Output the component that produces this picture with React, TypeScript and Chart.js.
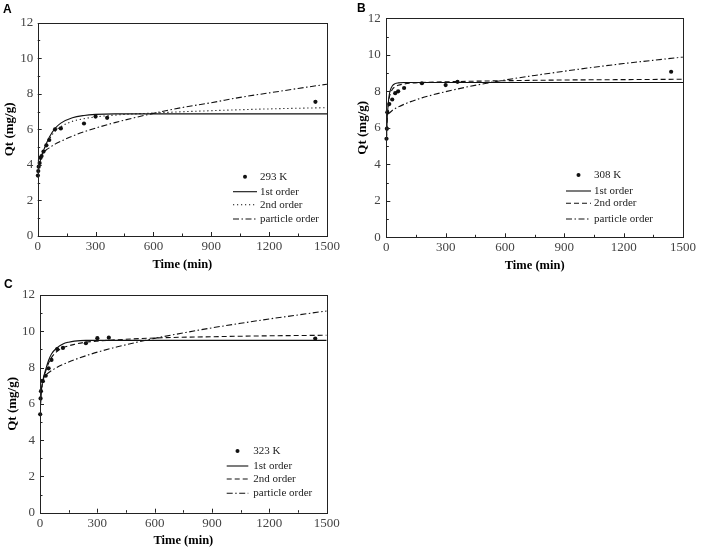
import React, { useEffect, useRef } from "react";
import { Chart, registerables } from "chart.js";
Chart.register(...registerables);

// ---------- Panel A (293 K) ----------
const timeA = [1, 3, 5, 10, 15, 20, 30, 45, 60, 90, 120, 240, 300, 360, 1440];
const qA = [3.4, 3.65, 3.9, 4.1, 4.4, 4.5, 4.75, 5.1, 5.4, 6.0, 6.05, 6.33, 6.72, 6.65, 7.55];
const fitTimeA = [1, 5, 15, 30, 45, 60, 90, 120, 180, 240, 300, 400, 600, 900, 1200, 1500];
const firstA = [3.4, 3.8, 4.3, 4.8, 5.2, 5.55, 6.05, 6.35, 6.65, 6.78, 6.84, 6.87, 6.87, 6.87, 6.87, 6.87];
const secondA = [3.4, 3.8, 4.3, 4.8, 5.15, 5.45, 5.9, 6.15, 6.45, 6.6, 6.7, 6.8, 6.92, 7.05, 7.15, 7.22];
const partTimeA = [1, 5, 15, 30, 45, 60, 90, 120, 180, 240, 300, 400, 500, 600, 750, 900, 1050, 1200, 1350, 1500];
const partA = [4.18, 4.33, 4.52, 4.7, 4.85, 4.96, 5.17, 5.33, 5.62, 5.86, 6.07, 6.38, 6.65, 6.9, 7.23, 7.5, 7.8, 8.05, 8.3, 8.54];

// ---------- Panel B (308 K) ----------
const timeB = [1, 3, 5, 15, 30, 45, 60, 90, 180, 300, 360, 1440];
const qB = [5.4, 5.95, 6.85, 7.3, 7.55, 7.9, 8.0, 8.18, 8.44, 8.34, 8.52, 9.07];
const fitTimeB = [1, 3, 5, 10, 15, 20, 30, 45, 60, 90, 120, 180, 300, 600, 900, 1200, 1500];
const firstB = [5.4, 6.0, 6.6, 7.35, 7.8, 8.05, 8.29, 8.42, 8.46, 8.48, 8.48, 8.48, 8.48, 8.48, 8.48, 8.48, 8.48];
const secondB = [5.4, 6.0, 6.55, 7.25, 7.65, 7.85, 8.1, 8.25, 8.33, 8.4, 8.44, 8.48, 8.52, 8.58, 8.62, 8.64, 8.66];
const partTimeB = [10, 15, 30, 60, 90, 120, 180, 240, 300, 400, 500, 600, 750, 900, 1050, 1200, 1350, 1500];
const partB = [6.75, 6.8, 6.95, 7.14, 7.29, 7.42, 7.64, 7.82, 7.98, 8.22, 8.43, 8.62, 8.87, 9.1, 9.32, 9.52, 9.7, 9.88];

// ---------- Panel C (323 K) ----------
const timeC = [1, 3, 5, 15, 30, 45, 60, 90, 120, 240, 300, 360, 1440];
const qC = [5.42, 6.3, 6.7, 7.25, 7.55, 7.96, 8.42, 9.02, 9.08, 9.34, 9.62, 9.65, 9.6];
const fitTimeC = [1, 5, 15, 30, 45, 60, 90, 120, 150, 180, 240, 300, 600, 900, 1200, 1500];
const firstC = [5.5, 6.5, 7.3, 7.9, 8.4, 8.75, 9.1, 9.3, 9.4, 9.46, 9.5, 9.5, 9.5, 9.5, 9.5, 9.5];
const secondC = [5.5, 6.45, 7.2, 7.8, 8.25, 8.55, 8.9, 9.1, 9.2, 9.28, 9.4, 9.46, 9.63, 9.7, 9.75, 9.78];
const partTimeC = [1, 5, 15, 30, 60, 90, 120, 180, 240, 300, 400, 500, 600, 750, 900, 1050, 1200, 1350, 1500];
const partC = [7.05, 7.25, 7.42, 7.59, 7.83, 8.02, 8.17, 8.43, 8.65, 8.85, 9.13, 9.38, 9.61, 9.91, 10.19, 10.44, 10.68, 10.9, 11.12];

const xTickMax = 1500;
const xTickStep = 300;
const yTickMax = 12;
const yTickStep = 2;
const legendLabels = ["1st order", "2nd order", "particle order"];

const SERIF = "'Liberation Serif', 'Times New Roman', serif";
const INK = "#111";

const pts = (xs: number[], ys: number[]) => xs.map((x, i) => ({ x, y: ys[i] }));

type PanelCfg = {
  left: number; top: number; width: number; height: number;
  pad: { top: number; right: number };
  yAxisW: number; xAxisH: number;
  yTitlePad: number; xTitlePad: number;
  yTickPad: number; xTickPad: number;
  temp: string;
  time: number[]; q: number[];
  fitTime: number[]; first: number[]; second: number[];
  partTime: number[]; part: number[];
  secondDash: number[];
  legend: { lx0: number; lx1: number; tx: number; rows: number[] };
};

const panels: PanelCfg[] = [
  {
    left: 0, top: 0, width: 354, height: 275,
    pad: { top: 22.7, right: 27 }, yAxisW: 37.7, xAxisH: 39,
    yTitlePad: 2, xTitlePad: 2.5, yTickPad: 4.4, xTickPad: 3,
    temp: "293 K", time: timeA, q: qA, fitTime: fitTimeA, first: firstA, second: secondA,
    partTime: partTimeA, part: partA, secondDash: [1.2, 2.8],
    legend: { lx0: -94, lx1: -70, tx: -67, rows: [-59.3, -44.3, -31.3, -17] },
  },
  {
    left: 354, top: 0, width: 354, height: 275,
    pad: { top: 18.3, right: 25 }, yAxisW: 32.3, xAxisH: 37.7,
    yTitlePad: 0.5, xTitlePad: 1.8, yTickPad: 5.6, xTickPad: 2.4,
    temp: "308 K", time: timeB, q: qB, fitTime: fitTimeB, first: firstB, second: secondB,
    partTime: partTimeB, part: partB, secondDash: [5, 3],
    legend: { lx0: -117, lx1: -92, tx: -89, rows: [-62.3, -46.3, -34, -18.3] },
  },
  {
    left: 0, top: 275, width: 354, height: 275,
    pad: { top: 20, right: 27.3 }, yAxisW: 40, xAxisH: 37.3,
    yTitlePad: 5, xTitlePad: 1.8, yTickPad: 5, xTickPad: 3,
    temp: "323 K", time: timeC, q: qC, fitTime: fitTimeC, first: firstC, second: secondC,
    partTime: partTimeC, part: partC, secondDash: [5, 3],
    legend: { lx0: -100, lx1: -78.4, tx: -73.4, rows: [-61.7, -46.7, -33.7, -19.4] },
  },
];

const framePlugin = (cfg: PanelCfg) => ({
  id: "frameTicksLegend",
  afterDraw(chart: any) {
    const { ctx, chartArea, scales } = chart;
    const { left, right, top, bottom } = chartArea;
    ctx.save();
    ctx.strokeStyle = "#222";
    ctx.lineWidth = 1;
    ctx.setLineDash([]);
    ctx.strokeRect(Math.round(left) + 0.5, Math.round(top) + 0.5, Math.round(right - left), Math.round(bottom - top));
    // inward ticks
    ctx.beginPath();
    for (let v = 0; v <= xTickMax; v += xTickStep / 2) {
      const x = Math.round(scales.x.getPixelForValue(v)) + 0.5;
      const len = v % xTickStep === 0 ? 4 : 2.5;
      ctx.moveTo(x, bottom);
      ctx.lineTo(x, bottom - len);
    }
    for (let v = 0; v <= yTickMax; v += yTickStep / 2) {
      const y = Math.round(scales.y.getPixelForValue(v)) + 0.5;
      const len = v % yTickStep === 0 ? 4 : 2.5;
      ctx.moveTo(left, y);
      ctx.lineTo(left + len, y);
    }
    ctx.stroke();
    // legend
    const L = cfg.legend;
    const x0 = right + L.lx0, x1 = right + L.lx1, tx = right + L.tx;
    ctx.font = `11px ${SERIF}`;
    ctx.textBaseline = "middle";
    ctx.textAlign = "left";
    const labels = [cfg.temp, ...legendLabels];
    const dashes = [null, [], cfg.secondDash, [6, 2.5, 1.5, 2.5]];
    labels.forEach((lab, i) => {
      const y = bottom + L.rows[i];
      if (i === 0) {
        ctx.beginPath();
        ctx.fillStyle = INK;
        ctx.arc((x0 + x1) / 2, y, 2, 0, Math.PI * 2);
        ctx.fill();
      } else {
        ctx.beginPath();
        ctx.strokeStyle = INK;
        ctx.lineWidth = 1.1;
        ctx.setLineDash(dashes[i] as number[]);
        ctx.moveTo(x0, y);
        ctx.lineTo(x1, y);
        ctx.stroke();
        ctx.setLineDash([]);
      }
      ctx.fillStyle = "#222";
      ctx.fillText(lab, tx, y);
    });
    ctx.restore();
  },
});

function Panel({ cfg }: { cfg: PanelCfg }) {
  const ref = useRef<HTMLCanvasElement | null>(null);
  useEffect(() => {
    if (!ref.current) return;
    const lineBase = {
      type: "line" as const,
      showLine: true,
      pointRadius: 0,
      borderColor: INK,
      borderWidth: 1.1,
      fill: false,
      cubicInterpolationMode: "monotone" as const,
    };
    const chart = new Chart(ref.current, {
      type: "scatter",
      data: {
        datasets: [
          { ...lineBase, label: "1st order", data: pts(cfg.fitTime, cfg.first) },
          { ...lineBase, label: "2nd order", data: pts(cfg.fitTime, cfg.second), borderDash: cfg.secondDash },
          { ...lineBase, label: "particle order", data: pts(cfg.partTime, cfg.part), borderDash: [6, 2.5, 1.5, 2.5] },
          {
            type: "scatter" as const,
            label: cfg.temp,
            data: pts(cfg.time, cfg.q),
            pointRadius: 2.1,
            pointBackgroundColor: INK,
            pointBorderColor: INK,
            pointBorderWidth: 0,
            clip: 6,
          } as any,
        ],
      },
      options: {
        responsive: false,
        animation: false,
        events: [],
        layout: { padding: { left: 0, top: cfg.pad.top, right: cfg.pad.right, bottom: 0 } },
        plugins: { legend: { display: false }, tooltip: { enabled: false }, title: { display: false } },
        scales: {
          x: {
            type: "linear",
            min: 0,
            max: xTickMax,
            grid: { display: false, drawTicks: false },
            border: { display: false },
            ticks: {
              stepSize: xTickStep,
              padding: cfg.xTickPad,
              color: "#444",
              font: { family: SERIF, size: 13 },
              maxRotation: 0,
              callback: (v: any) => String(v),
            },
            title: {
              display: true,
              text: "Time (min)",
              color: "#000",
              font: { family: SERIF, size: 12.5, weight: "bold" },
              padding: { top: 0, bottom: cfg.xTitlePad },
            },
            afterFit: (s: any) => { s.height = cfg.xAxisH; },
          },
          y: {
            type: "linear",
            min: 0,
            max: yTickMax,
            grid: { display: false, drawTicks: false },
            border: { display: false },
            ticks: {
              stepSize: yTickStep,
              padding: cfg.yTickPad,
              color: "#444",
              font: { family: SERIF, size: 13 },
              callback: (v: any) => String(v),
            },
            title: {
              display: true,
              text: "Qt (mg/g)",
              color: "#000",
              font: { family: SERIF, size: 13, weight: "bold" },
              padding: { top: cfg.yTitlePad, bottom: 0 },
            },
            afterFit: (s: any) => { s.width = cfg.yAxisW; },
          },
        },
      },
      plugins: [framePlugin(cfg)],
    } as any);
    return () => chart.destroy();
  }, [cfg]);
  return (
    <canvas
      ref={ref}
      width={cfg.width}
      height={cfg.height}
      style={{ position: "absolute", left: cfg.left, top: cfg.top, width: cfg.width, height: cfg.height }}
    />
  );
}

const letterStyle: React.CSSProperties = {
  position: "absolute",
  fontFamily: "'Liberation Sans', Arial, sans-serif",
  fontWeight: "bold",
  fontSize: 12,
  lineHeight: "12px",
  color: "#000",
};

export default function App() {
  return (
    <div style={{ position: "fixed", left: 0, top: 0, width: 708, height: 550, background: "#fff", overflow: "hidden" }}>
      {panels.map((p, i) => (
        <Panel key={i} cfg={p} />
      ))}
      <div style={{ ...letterStyle, left: 3, top: 3 }}>A</div>
      <div style={{ ...letterStyle, left: 357, top: 2 }}>B</div>
      <div style={{ ...letterStyle, left: 4, top: 278 }}>C</div>
    </div>
  );
}
